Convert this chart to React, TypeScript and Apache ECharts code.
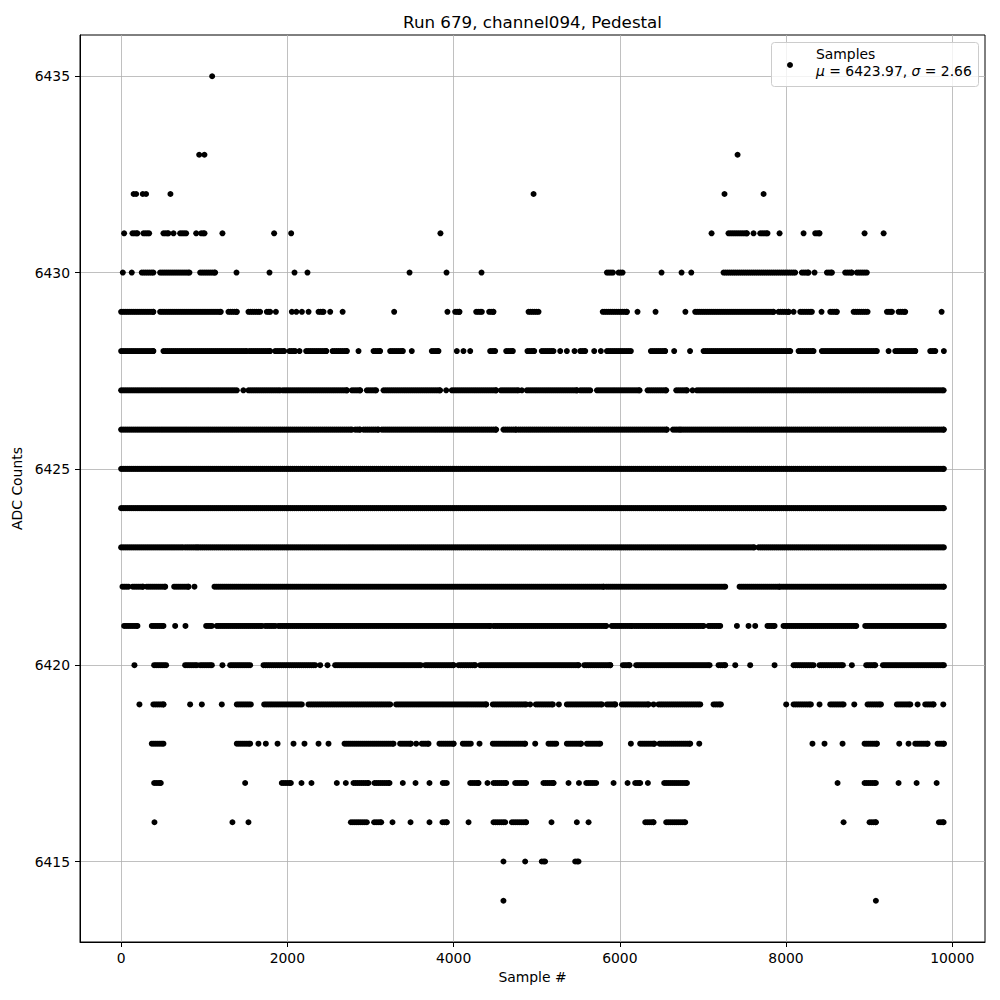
import React, { useEffect, useRef } from "react";
import * as echarts from "echarts";

// Runs of samples read per ADC level: [firstSample, lastSample]; a single dot is [x, x]
const runs6435 = [[1095, 1095]];
const runs6434: number[][] = [];
const runs6433 = [[939, 939], [1002, 1002], [7417, 7417]];
const runs6432 = [[150, 150], [180, 180], [260, 260], [300, 300], [593, 593], [4962, 4962], [7260, 7260], [7730, 7730]];
const runs6431 = [[36, 36], [136, 196], [268, 337], [509, 569], [630, 630], [710, 782], [903, 903], [963, 1003], [1219, 1219], [1841, 1841], [2046, 2046], [3842, 3842], [7104, 7104], [7308, 7529], [7609, 7609], [7690, 7777], [7922, 7922], [8211, 8211], [8351, 8403], [8945, 8945], [9174, 9174]];
const runs6430 = [[20, 20], [128, 128], [248, 388], [469, 822], [951, 1131], [1388, 1388], [1785, 1785], [2086, 2086], [2242, 2242], [3470, 3470], [3915, 3915], [4336, 4336], [5845, 5917], [5985, 6033], [6502, 6502], [6743, 6743], [6860, 6860], [7248, 8110], [8190, 8270], [8343, 8343], [8492, 8552], [8712, 8792], [8852, 8972]];
const runs6429 = [[0, 388], [469, 1199], [1291, 1392], [1532, 1672], [1753, 1793], [1862, 1862], [2054, 2054], [2108, 2108], [2175, 2175], [2255, 2255], [2375, 2435], [2515, 2515], [2665, 2665], [3285, 3285], [3926, 3926], [4019, 4071], [4272, 4340], [4428, 4480], [4902, 5022], [5795, 6084], [6213, 6213], [6430, 6430], [6789, 6789], [6907, 7850], [7910, 8031], [8091, 8091], [8171, 8311], [8427, 8427], [8532, 8612], [8813, 8981], [9214, 9274], [9354, 9434], [9872, 9872]];
const runs6428 = [[0, 388], [509, 1512], [1544, 1793], [1853, 1962], [2026, 2094], [2146, 2146], [2226, 2467], [2543, 2716], [2856, 2856], [3037, 3116], [3237, 3390], [3497, 3497], [3738, 3818], [4039, 4039], [4119, 4119], [4200, 4200], [4440, 4500], [4633, 4713], [4889, 4970], [5061, 5202], [5283, 5283], [5363, 5363], [5455, 5455], [5524, 5584], [5692, 5692], [5772, 5772], [5845, 6133], [6374, 6546], [6654, 6654], [6845, 6845], [7008, 8051], [8151, 8331], [8431, 9093], [9234, 9234], [9314, 9555], [9735, 9796], [9899, 9899]];
const runs6427 = [[0, 1392], [1471, 1471], [1532, 1913], [1945, 2716], [2776, 2876], [2956, 3068], [3157, 3838], [3911, 3911], [3979, 4512], [4569, 4780], [4821, 4821], [4881, 5483], [5524, 5644], [5725, 6238], [6334, 6558], [6679, 6808], [6875, 6875], [6927, 9896]];
const runs6426 = [[0, 2776], [2816, 2876], [2916, 3097], [3137, 4512], [4600, 4753], [4781, 6566], [6639, 6727], [6747, 9899]];
const runs6425 = [[0, 9899]];
const runs6424 = [[0, 9899]];
const runs6423 = [[0, 742], [770, 911], [930, 7617], [7669, 9899]];
const runs6422 = [[16, 88], [140, 261], [309, 530], [638, 810], [882, 882], [1123, 5804], [5836, 7268], [7441, 7922], [7950, 9899]];
const runs6421 = [[36, 196], [369, 509], [650, 650], [774, 774], [1023, 1091], [1151, 1693], [1733, 1853], [1893, 4440], [4480, 5836], [5904, 6145], [6177, 7008], [7068, 7208], [7409, 7409], [7549, 7549], [7629, 7629], [7777, 7862], [7970, 8845], [8953, 9899]];
const runs6420 = [[160, 160], [397, 541], [770, 911], [951, 1091], [1219, 1219], [1312, 1552], [1713, 2335], [2395, 2395], [2483, 2483], [2575, 3606], [3658, 4000], [4059, 4260], [4320, 5503], [5572, 5885], [6037, 6117], [6197, 7080], [7188, 7268], [7389, 7389], [7569, 7569], [7862, 7862], [8091, 8331], [8403, 8684], [8792, 8792], [8965, 9073], [9166, 9899]];
const runs6419 = [[220, 220], [388, 509], [830, 830], [971, 971], [1211, 1211], [1392, 1560], [1721, 2174], [2254, 3237], [3309, 4392], [4472, 4873], [4921, 4921], [4990, 5194], [5267, 5267], [5363, 5784], [5845, 5945], [6025, 6346], [6406, 6406], [6466, 6968], [7128, 7216], [8002, 8002], [8091, 8299], [8403, 8403], [8532, 8692], [8821, 8821], [8981, 9142], [9334, 9495], [9583, 9583], [9675, 9775], [9892, 9892]];
const runs6418 = [[369, 509], [1392, 1552], [1652, 1652], [1741, 1741], [1882, 1882], [2074, 2074], [2206, 2206], [2375, 2375], [2495, 2495], [2688, 3277], [3357, 3486], [3550, 3550], [3618, 3698], [3830, 4000], [4111, 4207], [4312, 4312], [4472, 4861], [4982, 4982], [5142, 5235], [5363, 5532], [5604, 5764], [6133, 6133], [6245, 6414], [6478, 6847], [6956, 6956], [8318, 8318], [8463, 8463], [8680, 8680], [8945, 9093], [9362, 9362], [9474, 9474], [9555, 9703], [9824, 9899]];
const runs6417 = [[397, 477], [1492, 1492], [1933, 2042], [2170, 2170], [2290, 2290], [2595, 2595], [2703, 2703], [2796, 2976], [3048, 3229], [3389, 3389], [3542, 3542], [3710, 3710], [3870, 3918], [4200, 4300], [4408, 4408], [4480, 4633], [4741, 4873], [5081, 5202], [5383, 5383], [5508, 5508], [5596, 5716], [5925, 5925], [6093, 6093], [6185, 6245], [6338, 6338], [6534, 6808], [8620, 8620], [8945, 9081], [9354, 9354], [9571, 9571], [9812, 9812]];
const runs6416 = [[401, 401], [1339, 1339], [1532, 1532], [2764, 2956], [3044, 3129], [3265, 3265], [3482, 3482], [3710, 3710], [3866, 3918], [4180, 4180], [4480, 4621], [4701, 4873], [5178, 5178], [5483, 5483], [5624, 5624], [6306, 6406], [6558, 6787], [8692, 8692], [9005, 9081], [9840, 9896]];
const runs6415 = [[4600, 4600], [4861, 4861], [5061, 5101], [5463, 5503]];
const runs6414 = [[4600, 4600], [9081, 9081]];

const levels = [6435, 6434, 6433, 6432, 6431, 6430, 6429, 6428, 6427, 6426, 6425, 6424, 6423, 6422, 6421, 6420, 6419, 6418, 6417, 6416, 6415, 6414];
const levelRuns = [runs6435, runs6434, runs6433, runs6432, runs6431, runs6430, runs6429, runs6428, runs6427, runs6426, runs6425, runs6424, runs6423, runs6422, runs6421, runs6420, runs6419, runs6418, runs6417, runs6416, runs6415, runs6414];

const xTicks = [0, 2000, 4000, 6000, 8000, 10000];
const yTicks = [6415, 6420, 6425, 6430, 6435];

const titleText = "Run 679, channel094, Pedestal";
const seriesName = "Samples";
const muValue = "6423.97";
const sigmaValue = "2.66";

const STEP = 24; // one sample per ~2 px inside a run

function buildPoints(): number[][] {
  const pts: number[][] = [];
  levels.forEach((lv, i) => {
    levelRuns[i].forEach(([a, b]) => {
      if (b - a < STEP) {
        pts.push([a, lv]);
        if (b !== a) pts.push([b, lv]);
      } else {
        for (let x = a; x < b; x += STEP) pts.push([x, lv]);
        pts.push([b, lv]);
      }
    });
  });
  return pts;
}

const FONT = "DejaVu Sans";
const plain = (v: number) => String(v);

export default function App() {
  const ref = useRef<HTMLDivElement>(null);
  useEffect(() => {
    if (!ref.current) return;
    const chart = echarts.init(ref.current, null, { renderer: "svg" });
    const gridColor = "#b0b0b0";
    chart.setOption({
      animation: false,
      backgroundColor: "#ffffff",
      grid: {
        left: 80,
        right: 15,
        top: 35,
        bottom: 58,
        show: true,
        borderColor: "#000",
        borderWidth: 1,
        containLabel: false,
      },
      xAxis: {
        type: "value",
        min: -495,
        max: 10394,
        name: "Sample #",
        nameLocation: "middle",
        nameGap: 28,
        nameTextStyle: { color: "#000", fontFamily: FONT, fontSize: 13.9 },
        axisLine: { show: true, onZero: false, lineStyle: { color: "#000", width: 1 } },
        axisTick: { show: true, length: 5, customValues: xTicks, lineStyle: { color: "#000" } },
        axisLabel: { customValues: xTicks, formatter: plain, color: "#000", fontFamily: FONT, fontSize: 13.9, margin: 9 },
        splitLine: { show: true, lineStyle: { color: gridColor, width: 0.8 } },
      },
      yAxis: {
        type: "value",
        min: 6412.95,
        max: 6436.05,
        name: "ADC Counts",
        nameLocation: "middle",
        nameGap: 51,
        nameTextStyle: { color: "#000", fontFamily: FONT, fontSize: 13.9 },
        axisLine: { show: true, onZero: false, lineStyle: { color: "#000", width: 1 } },
        axisTick: { show: true, length: 5, customValues: yTicks, lineStyle: { color: "#000" } },
        axisLabel: { customValues: yTicks, formatter: plain, color: "#000", fontFamily: FONT, fontSize: 13.9, margin: 10 },
        splitLine: { show: true, lineStyle: { color: gridColor, width: 0.8 } },
      },
      series: [
        {
          name: seriesName,
          type: "scatter",
          symbol: "circle",
          symbolSize: 6,
          itemStyle: { color: "#000", opacity: 1 },
          data: buildPoints(),
          emphasis: { disabled: true },
        },
      ],
      graphic: [
        {
          type: "text",
          x: 532.5,
          y: 22,
          style: {
            text: titleText,
            fontFamily: FONT,
            fontSize: 16.7,
            fill: "#000",
            align: "center",
            verticalAlign: "middle",
          },
        },
        {
          type: "rect",
          shape: { x: 771.5, y: 42.5, width: 207, height: 44, r: 3 },
          style: { fill: "rgba(255,255,255,0.8)", stroke: "#cccccc", lineWidth: 1 },
          z: 100,
        },
        {
          type: "circle",
          shape: { cx: 790, cy: 65, r: 3 },
          style: { fill: "#000" },
          z: 101,
        },
        {
          type: "text",
          x: 816,
          y: 54,
          z: 101,
          style: {
            text: seriesName,
            fontFamily: FONT,
            fontSize: 13.9,
            fill: "#000",
            align: "left",
            verticalAlign: "middle",
          },
        },
        {
          type: "text",
          x: 816,
          y: 71,
          z: 101,
          style: {
            text: "{i|μ} = " + muValue + ", {i|σ} = " + sigmaValue,
            fontFamily: FONT,
            fontSize: 13.9,
            fill: "#000",
            align: "left",
            verticalAlign: "middle",
            rich: {
              i: { fontStyle: "italic", fontFamily: FONT, fontSize: 13.9, fill: "#000" },
            },
          },
        },
      ],
    });
    return () => chart.dispose();
  }, []);
  return (
    <div
      ref={ref}
      style={{ position: "absolute", left: 0, top: 0, width: 1000, height: 1000 }}
    />
  );
}
